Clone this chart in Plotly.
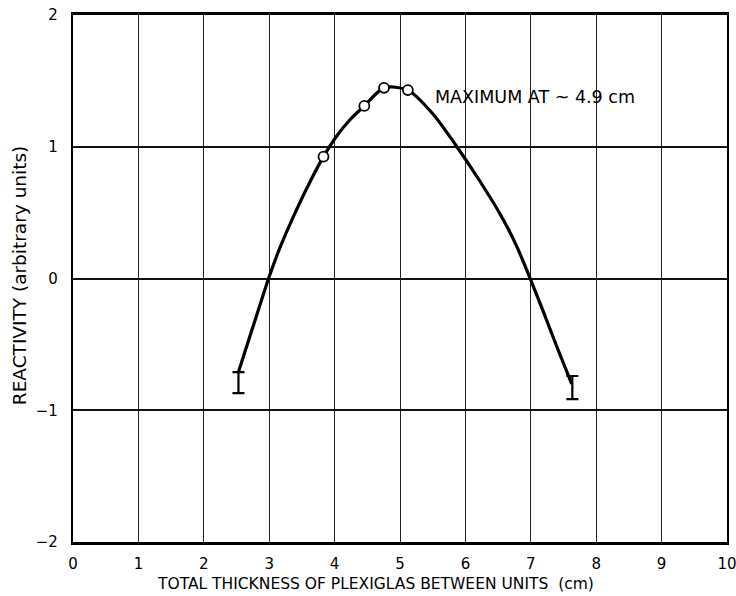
import plotly.graph_objects as go

# Smooth fitted curve
curve_x = [2.53, 2.71, 2.86, 2.99, 3.165, 3.37, 3.60, 3.83, 4.03, 4.235, 4.455, 4.755,
           5.12, 5.51, 5.87, 6.22, 6.53, 6.78, 6.99, 7.19, 7.40, 7.625]
curve_y = [-0.71, -0.43, -0.20, 0.0, 0.235, 0.47, 0.71, 0.925, 1.08, 1.205, 1.31, 1.447,
           1.43, 1.245, 1.0, 0.74, 0.49, 0.25, 0.0, -0.25, -0.52, -0.80]

# Measured points (open circles)
pts_x = [3.83, 4.455, 4.755, 5.12]
pts_y = [0.925, 1.31, 1.447, 1.43]

# Points with error bars
err_x = [2.53, 7.635]
err_y = [-0.79, -0.828]
err_e = [0.08, 0.088]

x_ticks = [0, 1, 2, 3, 4, 5, 6, 7, 8, 9, 10]
x_ticktext = ["0", "1", "2", "3", "4", "5", "6", "7", "8", "9", "10"]
y_ticks = [-2, -1, 0, 1, 2]
y_ticktext = ["−2", "−1", "0", "1", "2"]

FONT = "DejaVu Sans"

fig = go.Figure()
fig.add_trace(go.Scatter(
    x=curve_x, y=curve_y, mode="lines",
    line=dict(color="black", width=3.2, shape="spline", smoothing=0.8),
    hoverinfo="skip", showlegend=False))
fig.add_trace(go.Scatter(
    x=err_x, y=err_y, mode="markers",
    marker=dict(size=1, color="black"),
    error_y=dict(type="data", array=err_e, color="black", thickness=2.2, width=6),
    showlegend=False))
fig.add_trace(go.Scatter(
    x=pts_x, y=pts_y, mode="markers",
    marker=dict(size=10, color="white", line=dict(color="black", width=1.8)),
    showlegend=False))

fig.add_annotation(x=5.5, y=1.38, xref="x", yref="y", text="MAXIMUM AT ~ 4.9 cm",
                   showarrow=False, xanchor="left", yanchor="middle",
                   font=dict(family=FONT, size=17.5, color="black"))
fig.add_annotation(x=0.463, y=-0.08, xref="paper", yref="paper",
                   text="TOTAL THICKNESS OF PLEXIGLAS BETWEEN UNITS  (cm)",
                   showarrow=False, xanchor="center", yanchor="middle",
                   font=dict(family=FONT, size=15.5, color="black"))
fig.add_annotation(x=-0.082, y=0.507, xref="paper", yref="paper",
                   text="REACTIVITY (arbitrary units)", textangle=-90,
                   showarrow=False, xanchor="center", yanchor="middle",
                   font=dict(family=FONT, size=18.5, color="black"))

fig.update_xaxes(range=[0, 10], tickvals=x_ticks, ticktext=x_ticktext,
                 showgrid=True, gridcolor="#222", gridwidth=1.2,
                 showline=True, linecolor="black", linewidth=2.5, mirror=True,
                 zeroline=False, ticks="", ticklabelstandoff=6, automargin=False,
                 ticklabeloverflow="allow",
                 tickfont=dict(family=FONT, size=15, color="black"))
fig.update_yaxes(range=[-2, 2], tickvals=y_ticks, ticktext=y_ticktext,
                 showgrid=True, gridcolor="#111", gridwidth=1.7,
                 showline=True, linecolor="black", linewidth=2.2, mirror=True,
                 zeroline=False, ticks="", ticklabelstandoff=10, automargin=False,
                 ticklabeloverflow="allow",
                 tickfont=dict(family=FONT, size=15, color="black"))

fig.update_layout(width=736, height=596,
                  margin=dict(l=73, r=9, t=15, b=54, autoexpand=False),
                  plot_bgcolor="white", paper_bgcolor="white",
                  showlegend=False)

# remove the page's default 8px body margin so the figure fills the window
fig.write_html("out.html", config={"displayModeBar": False},
               post_script="document.body.style.margin='0';document.body.style.overflow='hidden';")
